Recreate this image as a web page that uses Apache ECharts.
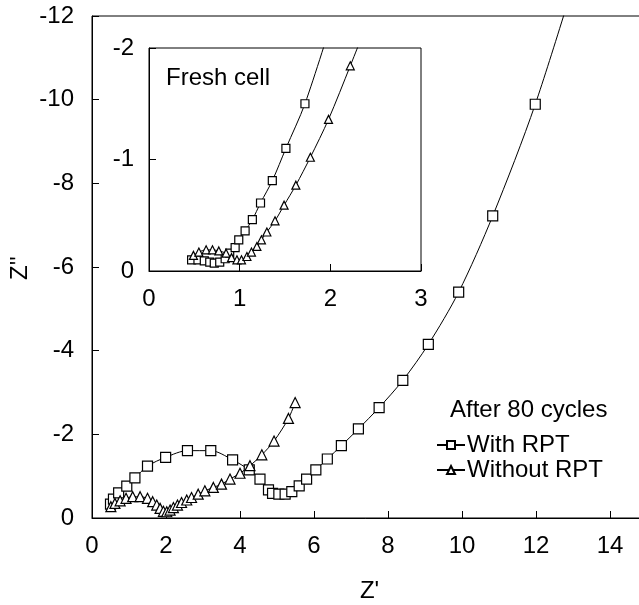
<!DOCTYPE html>
<html>
<head>
<meta charset="utf-8">
<script src="https://cdn.jsdelivr.net/npm/echarts@6/dist/echarts.min.js"></script>
<style>
  html, body { margin: 0; padding: 0; background: #fff; }
  #chart { width: 639px; height: 605px; }
</style>
</head>
<body>
<div id="chart"></div>
<script>
// after 80 cycles - with RPT (squares)
const withRptX = [0.50, 0.58, 0.72, 0.94, 1.16, 1.50, 1.99, 2.58, 3.21, 3.80, 4.25, 4.54, 4.77, 4.88, 5.05, 5.22, 5.40, 5.60, 5.80, 6.05, 6.36, 6.74, 7.20, 7.76, 8.40, 9.09, 9.91, 10.83, 11.98, 13.3];
const withRptY = [-0.33, -0.45, -0.60, -0.76, -0.96, -1.24, -1.45, -1.61, -1.61, -1.39, -1.15, -0.93, -0.67, -0.59, -0.57, -0.57, -0.63, -0.77, -0.93, -1.15, -1.41, -1.73, -2.13, -2.64, -3.29, -4.15, -5.40, -7.22, -9.89, -13.6];
// after 80 cycles - without RPT (triangles)
const noRptX = [0.51, 0.62, 0.76, 0.92, 1.10, 1.30, 1.50, 1.64, 1.75, 1.84, 1.93, 2.02, 2.11, 2.20, 2.31, 2.42, 2.56, 2.69, 2.87, 3.05, 3.28, 3.50, 3.73, 4.00, 4.27, 4.59, 4.92, 5.31, 5.49];
const noRptY = [-0.27, -0.35, -0.41, -0.47, -0.51, -0.51, -0.47, -0.39, -0.31, -0.23, -0.16, -0.15, -0.19, -0.25, -0.31, -0.37, -0.43, -0.49, -0.57, -0.65, -0.73, -0.81, -0.93, -1.07, -1.25, -1.51, -1.84, -2.38, -2.76];
// fresh cell (inset)
const freshWithX = [0.47, 0.54, 0.61, 0.67, 0.72, 0.78, 0.84, 0.89, 0.95, 0.99, 1.06, 1.14, 1.23, 1.36, 1.51, 1.72, 2.02];
const freshWithY = [-0.10, -0.10, -0.09, -0.08, -0.07, -0.08, -0.11, -0.16, -0.21, -0.28, -0.36, -0.46, -0.61, -0.81, -1.10, -1.50, -2.25];
const freshNoX = [0.49, 0.55, 0.63, 0.70, 0.77, 0.85, 0.91, 0.97, 1.02, 1.08, 1.13, 1.19, 1.24, 1.30, 1.39, 1.49, 1.62, 1.78, 1.98, 2.22, 2.42];
const freshNoY = [-0.14, -0.17, -0.19, -0.19, -0.18, -0.16, -0.12, -0.10, -0.10, -0.13, -0.17, -0.22, -0.28, -0.35, -0.45, -0.59, -0.77, -1.02, -1.36, -1.84, -2.25];

const mainXTicks = [0, 15, 2];
const mainYTicks = [-12, 0, 2];
const insetXTicks = [0, 3, 1];
const insetYTicks = [-2, 0, 1];

const zip = (xs, ys) => xs.map((x, i) => [x, ys[i]]);
const font = 'Liberation Sans, Arial, sans-serif';
const fs = 24;

const chart = echarts.init(document.getElementById('chart'));

const axisCommon = {
  type: 'value',
  axisLine: { show: true, lineStyle: { color: '#000', width: 1 } },
  axisTick: { show: true, inside: true, length: 7, lineStyle: { color: '#000' } },
  splitLine: { show: false },
  axisLabel: { color: '#000', fontSize: fs, fontFamily: font },
};

function lineSeries(name, data, symbol, size, xi, yi) {
  return {
    name, type: 'line', data, symbol, symbolSize: size, smooth: 0.3, clip: true,
    xAxisIndex: xi, yAxisIndex: yi,
    showAllSymbol: true,
    lineStyle: { color: '#000', width: 1 },
    itemStyle: { color: '#fff', borderColor: '#000', borderWidth: 1.2 },
    emphasis: { disabled: true },
    z: 3,
  };
}

chart.setOption({
  animation: false,
  backgroundColor: '#fff',
  grid: [
    { left: 92, top: 16, right: -8, bottom: 87, show: true, borderColor: '#000', borderWidth: 1, outerBoundsMode: 'none' },
    { left: 149, top: 48, width: 272, height: 223, show: true, borderColor: '#000', borderWidth: 1, backgroundColor: '#fff', z: 5, outerBoundsMode: 'none' },
  ],
  xAxis: [
    { ...axisCommon, gridIndex: 0, min: mainXTicks[0], max: mainXTicks[1], interval: mainXTicks[2],
      name: "Z'", nameLocation: 'middle', nameGap: 61,
      nameTextStyle: { color: '#000', fontSize: fs, fontFamily: font },
      axisLabel: { ...axisCommon.axisLabel, margin: 16, showMaxLabel: false } },
    { ...axisCommon, gridIndex: 1, min: insetXTicks[0], max: insetXTicks[1], interval: insetXTicks[2],
      axisLabel: { ...axisCommon.axisLabel, margin: 16 }, z: 6 },
  ],
  yAxis: [
    { ...axisCommon, gridIndex: 0, min: mainYTicks[0], max: mainYTicks[1], interval: mainYTicks[2], inverse: true,
      axisLabel: { ...axisCommon.axisLabel, margin: 18 } },
    { ...axisCommon, gridIndex: 1, min: insetYTicks[0], max: insetYTicks[1], interval: insetYTicks[2], inverse: true,
      axisLabel: { ...axisCommon.axisLabel, margin: 15 }, z: 6 },
  ],
  legend: {
    data: ['With RPT', 'Without RPT'],
    orient: 'vertical', left: 436, top: 433, padding: 0,
    itemWidth: 28, itemHeight: 10, itemGap: 1,
    textStyle: { color: '#000', fontSize: fs, fontFamily: font, padding: [0, 0, 0, -3] },
  },
  graphic: [
    // y axis title, rotated
    { type: 'text', x: 20, y: 268, rotation: Math.PI / 2,
      style: { text: "Z''", fill: '#000', font: fs + 'px ' + font, align: 'center', verticalAlign: 'middle' } },
    { type: 'text', left: 450, top: 398, style: { text: 'After 80 cycles', fill: '#000', font: fs + 'px ' + font } },
    { type: 'text', left: 166, top: 66, z: 10, style: { text: 'Fresh cell', fill: '#000', font: fs + 'px ' + font } },
  ],
  series: [
    lineSeries('With RPT', zip(withRptX, withRptY), 'rect', 10, 0, 0),
    lineSeries('Without RPT', zip(noRptX, noRptY), 'triangle', 10, 0, 0),
    { ...lineSeries('fresh with', zip(freshWithX, freshWithY), 'rect', 8, 1, 1), z: 7 },
    { ...lineSeries('fresh without', zip(freshNoX, freshNoY), 'triangle', 8, 1, 1), z: 7 },
  ],
});
</script>
</body>
</html>
